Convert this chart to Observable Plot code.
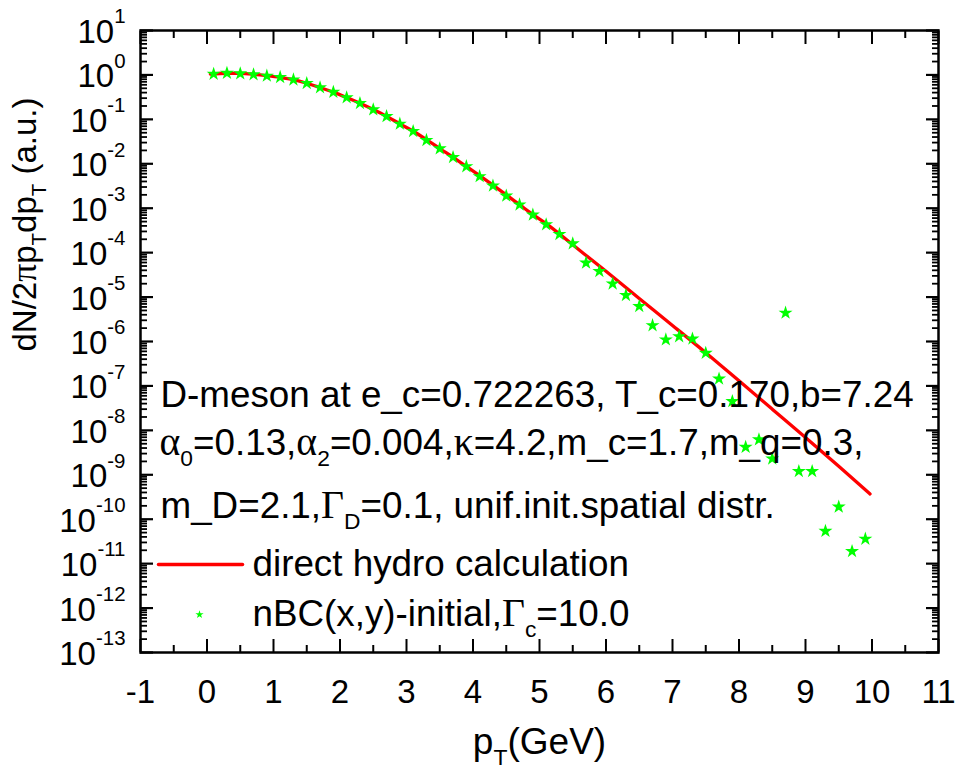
<!DOCTYPE html>
<html><head><meta charset="utf-8">
<script src="https://cdn.jsdelivr.net/npm/d3@7"></script>
<script src="https://cdn.jsdelivr.net/npm/@observablehq/plot@0.6"></script>
<style>body{margin:0;background:#fff}</style>
</head><body><div id="chart"></div>
<script>
// nBC(x,y)-initial stars
const starX = [0.1,0.3,0.5,0.7,0.9,1.1,1.3,1.5,1.7,1.9,2.1,2.3,2.5,2.7,2.9,3.1,3.3,3.5,3.7,3.9,4.1,4.3,4.5,4.7,4.9,5.1,5.3,5.5,5.7,5.9,6.1,6.3,6.5,6.7,6.9,7.1,7.3,7.5,7.7,7.9,8.1,8.3,8.5,8.7,8.9,9.1,9.3,9.5,9.7,9.9];
const starY = [1.05,1.10,1.07,1.02,0.95,0.89,0.78,0.65,0.52,0.41,0.31,0.23,0.166,0.117,0.079,0.054,0.034,0.022,0.014,8.7e-3,5.2e-3,3.2e-3,1.9e-3,1.2e-3,7.1e-4,4.3e-4,2.6e-4,1.6e-4,5.9e-5,3.8e-5,2.0e-5,1.1e-5,6.2e-6,2.3e-6,1.1e-6,1.3e-6,1.15e-6,5.5e-7,1.45e-7,4.5e-8,4.2e-9,6.2e-9,2.3e-9,4.4e-6,1.2e-9,1.2e-9,5.4e-11,1.9e-10,1.9e-11,3.6e-11];
// direct hydro calculation curve
const lineX = [0.05,0.3,0.5,0.7,0.9,1.1,1.3,1.5,1.7,1.9,2.1,2.3,2.5,2.7,2.9,3.1,3.3,3.5,3.7,3.9,4.1,4.3,4.5,4.7,4.9,5.1,5.5,6.0,6.5,7.0,7.5,8.0,8.5,9.0,9.5,9.97];
const lineY = [1.05,1.09,1.08,1.03,0.96,0.88,0.78,0.65,0.52,0.41,0.31,0.23,0.166,0.117,0.079,0.054,0.035,0.022,0.014,8.7e-3,5.4e-3,3.3e-3,2.0e-3,1.2e-3,7.2e-4,4.5e-4,1.5e-4,3.8e-5,9.3e-6,2.3e-6,5.6e-7,1.3e-7,3.0e-8,6.9e-9,1.55e-9,3.7e-10];
// axes
const xTickLabels = [-1,0,1,2,3,4,5,6,7,8,9,10,11];
const xMinorTicks = [-0.5,0.5,1.5,2.5,3.5,4.5,5.5,6.5,7.5,8.5,9.5,10.5];
const yExponents = [-13,-12,-11,-10,-9,-8,-7,-6,-5,-4,-3,-2,-1,0,1];
const xLabel = "p~T(GeV)";
const yLabel = "dN/2πp~Tdp~T (a.u.)";
const notes = [
  "D-meson at e_c=0.722263, T_c=0.170,b=7.24",
  "α~0=0.13,α~2=0.004,κ=4.2,m_c=1.7,m_q=0.3,",
  "m_D=2.1,Γ~D=0.1, unif.init.spatial distr."
];
const seriesNames = ["direct hydro calculation", "nBC(x,y)-initial,Γ~c=10.0"];

const lineData = lineX.map((x, i) => ({x, y: lineY[i]}));
const starData = starX.map((x, i) => ({x, y: starY[i]}));
const yMajor = yExponents.map(e => Math.pow(10, e));
const yMinor = [];
for (const e of yExponents.slice(0, -1)) for (let m = 2; m <= 9; m++) yMinor.push(m * Math.pow(10, e));

const RED = "#ff0000", GREEN = "#00ff00";
const FS_TICK = 33, FS_NOTE = 36.8, FS_XLAB = 37, FS_YLAB = 33;
const tickMarks = [];
for (const a of ["bottom", "top"]) {
  tickMarks.push(Plot.axisX({anchor: a, ticks: xTickLabels, tickSize: -13, strokeWidth: 2, fill: "none", label: null, tickFormat: () => ""}));
  tickMarks.push(Plot.axisX({anchor: a, ticks: xMinorTicks, tickSize: -7, strokeWidth: 2, fill: "none", label: null, tickFormat: () => ""}));
}
for (const a of ["left", "right"]) {
  tickMarks.push(Plot.axisY({anchor: a, ticks: yMajor, tickSize: -13, strokeWidth: 2.2, fill: "none", label: null, tickFormat: () => ""}));
  tickMarks.push(Plot.axisY({anchor: a, ticks: yMinor, tickSize: -7, strokeWidth: 1.8, fill: "none", label: null, tickFormat: () => ""}));
}
const lineShape = {draw(ctx, l) { ctx.moveTo(0, 0); ctx.lineTo(0, -l); }};

const chart = Plot.plot({
  width: 960, height: 770,
  marginLeft: 140, marginRight: 22, marginTop: 30, marginBottom: 118,
  style: {fontFamily: '"Liberation Sans", Arial, sans-serif', background: "white", color: "black"},
  x: {domain: [-1, 11]},
  y: {type: "log", domain: [1e-13, 10]},
  marks: [
    Plot.line(lineData, {x: "x", y: "y", stroke: RED, strokeWidth: 3.3, curve: "monotone-x"}),
    Plot.dot(starData, {x: "x", y: "y", symbol: "star", r: 4.4, fill: GREEN, stroke: "none"}),
    ...tickMarks,
    Plot.axisX({anchor: "bottom", ticks: xTickLabels, tickSize: 0, tickPadding: 27, fontSize: FS_TICK, label: null, tickFormat: d => String(d)}),
    Plot.axisY({anchor: "left", ticks: yMajor, tickSize: 0, tickPadding: 15, fontSize: FS_TICK, label: null, dy: 2, tickFormat: d => "10^" + Math.round(Math.log10(d))}),
    Plot.frame({stroke: "black", strokeWidth: 2.5}),
    Plot.text([notes[0]], {frameAnchor: "top-left", dx: 20, dy: 365, textAnchor: "start", lineAnchor: "middle", fontSize: FS_NOTE}),
    Plot.text([notes[1]], {frameAnchor: "top-left", dx: 19, dy: 413, textAnchor: "start", lineAnchor: "middle", fontSize: FS_NOTE}),
    Plot.text([notes[2]], {frameAnchor: "top-left", dx: 20, dy: 476, textAnchor: "start", lineAnchor: "middle", fontSize: FS_NOTE}),
    Plot.vector([0], {frameAnchor: "top-left", dx: 18, dy: 534, length: 84, rotate: 90, anchor: "start", shape: lineShape, stroke: RED, strokeWidth: 3.5}),
    Plot.dot([0], {frameAnchor: "top-left", dx: 59, dy: 584, symbol: "star", r: 2.6, fill: GREEN, stroke: "none"}),
    Plot.text([seriesNames[0]], {frameAnchor: "top-left", dx: 112, dy: 534, textAnchor: "start", lineAnchor: "middle", fontSize: FS_NOTE}),
    Plot.text([seriesNames[1]], {frameAnchor: "top-left", dx: 112, dy: 584, textAnchor: "start", lineAnchor: "middle", fontSize: FS_NOTE}),
    Plot.text([xLabel], {frameAnchor: "bottom", dy: 90, lineAnchor: "middle", fontSize: FS_XLAB}),
    Plot.text([yLabel], {frameAnchor: "left", dx: -115, dy: 10, rotate: -90, lineAnchor: "middle", fontSize: FS_YLAB})
  ]
});

// rich text: ~X => subscript X, ^rest => superscript, Greek in serif
const isGreek = c => /[\u0370-\u03ff]/.test(c);
function richify(el) {
  const s = el.textContent;
  if (!/[~^\u0370-\u03ff]/.test(s)) return;
  const fs = parseFloat(el.getAttribute("font-size") || el.closest("[font-size]")?.getAttribute("font-size") || 33);
  el.textContent = "";
  const ns = "http://www.w3.org/2000/svg";
  let shift = 0;
  const add = (str, o = {}) => {
    const t = document.createElementNS(ns, "tspan");
    const target = o.shift || 0;
    if (target !== shift) { t.setAttribute("dy", target - shift); shift = target; }
    if (o.size) t.setAttribute("font-size", o.size);
    if (o.serif) t.setAttribute("font-family", '"Liberation Serif", "Times New Roman", serif');
    t.textContent = str;
    el.appendChild(t);
  };
  let buf = "";
  const flush = () => { if (buf) { add(buf); buf = ""; } };
  for (let i = 0; i < s.length; i++) {
    const c = s[i];
    if (c === "~") { flush(); const sc = s[++i]; add(sc, {shift: 0.3 * fs, size: 0.62 * fs, serif: isGreek(sc)}); }
    else if (c === "^") { flush(); add(s.slice(i + 1), {shift: -0.6 * fs, size: 0.62 * fs}); i = s.length; }
    else if (isGreek(c)) { flush(); add(c, {serif: true, size: 1.08 * fs}); }
    else buf += c;
  }
  flush();
}
chart.querySelectorAll("text").forEach(richify);
document.getElementById("chart").appendChild(chart);
</script>
</body></html>
